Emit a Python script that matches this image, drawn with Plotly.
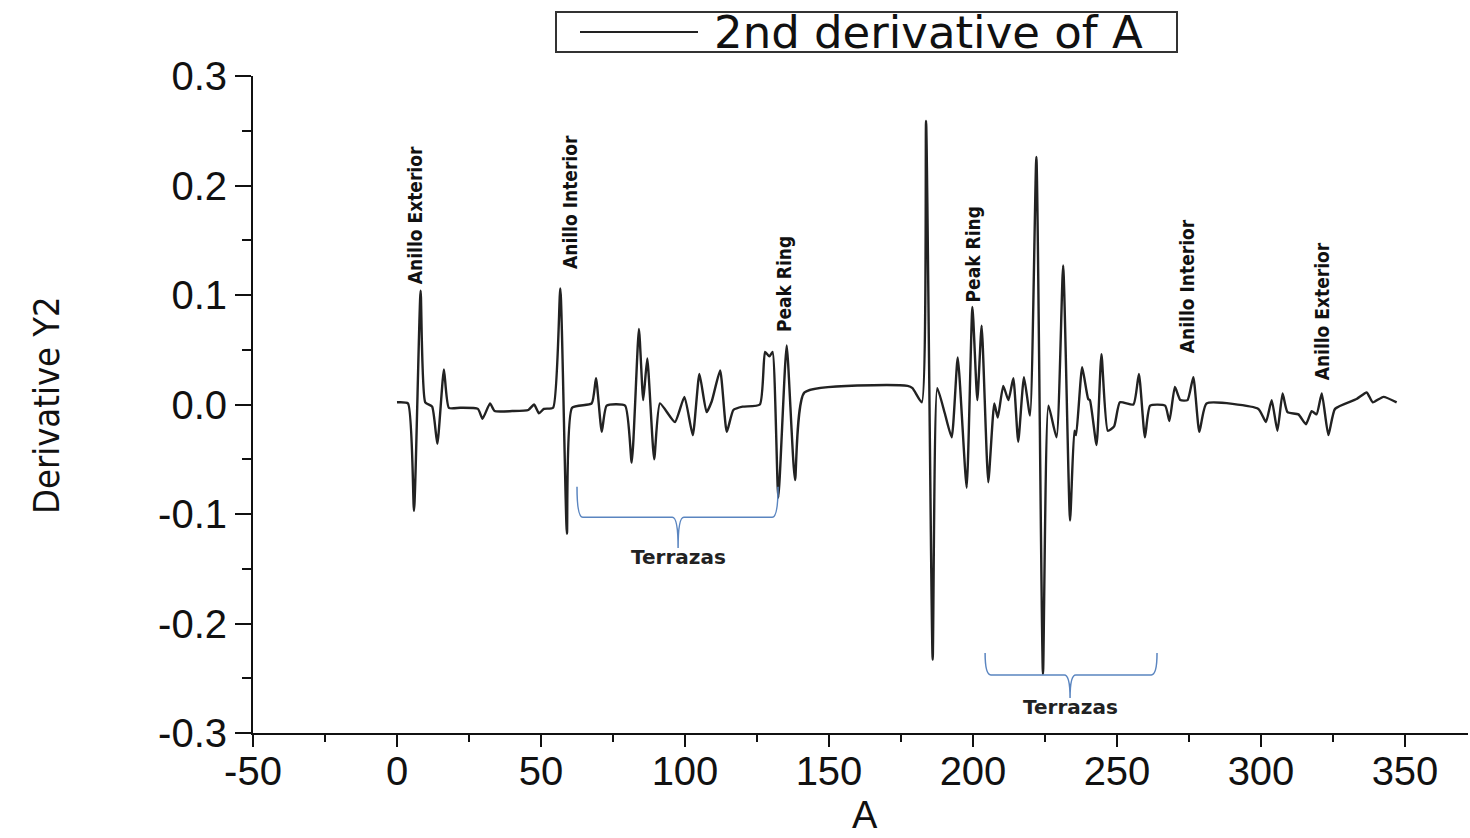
import plotly.graph_objects as go

# ---------------- data ----------------
x_vals = [0, 3.8, 5.9, 8.2, 9.8, 12.2, 14.0, 16.3, 18.0, 22.0, 28.1, 29.7, 32.3, 33.9,
          40.0, 45.6, 47.6, 49.3, 51.0, 54.2, 56.7, 59.0, 60.8,
          67.6, 69.1, 71.1, 72.8, 79.2, 81.5, 84.0, 85.5, 86.9, 89.3, 91.3, 96.5,
          99.8, 102.7, 105.0, 107.5, 109.3, 112.2, 114.5, 116.8, 120.0, 126.0,
          127.8, 129.3, 130.4, 132.4, 135.3, 138.2, 141.5, 177.3, 179.0, 182.2,
          183.7, 186.0, 187.6, 190.2, 192.6, 194.7, 197.8, 199.8, 201.5, 203.0,
          205.3, 207.4, 208.6, 210.5, 212.3, 214.0, 215.7, 217.7, 219.8, 222.0,
          224.3, 226.2, 229.0, 231.3, 233.7, 235.2, 235.8, 237.9, 240.0, 240.6,
          242.9, 244.6, 246.8, 249.0, 251.0, 255.7, 257.6, 259.7, 261.5, 266.7,
          268.2, 270.1, 272.0, 274.5, 276.5, 278.6, 281.1, 299.1, 301.7, 303.7,
          305.7, 307.5, 309.2, 313.0, 315.6, 317.6, 319.3, 321.1, 323.4, 325.7,
          333.2, 336.7, 338.8, 342.5, 347.1]
y_vals = [0.002, 0.001, -0.097, 0.104, 0.002, -0.002, -0.036, 0.032, -0.003, -0.003, -0.004, -0.013, 0.001, -0.006,
          -0.006, -0.005, 0.000, -0.008, -0.004, -0.003, 0.106, -0.118, -0.003,
          0.001, 0.024, -0.025, -0.001, -0.001, -0.053, 0.069, 0.004, 0.042, -0.050, 0.001, -0.016,
          0.007, -0.028, 0.028, -0.007, 0.003, 0.031, -0.025, -0.005, -0.002, 0.000,
          0.048, 0.044, 0.048, -0.085, 0.054, -0.069, 0.011, 0.017, 0.015, 0.002,
          0.259, -0.233, 0.015, -0.008, -0.030, 0.043, -0.076, 0.089, 0.004, 0.072,
          -0.071, 0.001, -0.012, 0.017, 0.004, 0.024, -0.034, 0.025, -0.010, 0.226,
          -0.246, -0.001, -0.030, 0.127, -0.106, -0.024, -0.028, 0.034, 0.005, 0.004,
          -0.037, 0.046, -0.024, -0.020, 0.002, 0.000, 0.028, -0.030, -0.001, -0.001,
          -0.015, 0.016, 0.004, 0.004, 0.025, -0.025, 0.001, -0.004, -0.016, 0.004,
          -0.024, 0.010, -0.007, -0.009, -0.018, -0.006, -0.009, 0.010, -0.028, -0.004,
          0.005, 0.011, 0.002, 0.007, 0.002]

series_name = "2nd derivative of A"
x_title = "A"
y_title = "Derivative Y2"

x_tick_vals = [-50, 0, 50, 100, 150, 200, 250, 300, 350]
x_tick_text = ["-50", "0", "50", "100", "150", "200", "250", "300", "350"]
y_tick_vals = [-0.3, -0.2, -0.1, 0.0, 0.1, 0.2, 0.3]
y_tick_text = ["-0.3", "-0.2", "-0.1", "0.0", "0.1", "0.2", "0.3"]

label_texts = ["Anillo Exterior", "Anillo Interior", "Peak Ring", "Peak Ring", "Anillo Interior", "Anillo Exterior"]
label_x = [6.3, 60.1, 134.4, 200.0, 274.3, 321.5]
label_y = [0.173, 0.185, 0.110, 0.137, 0.108, 0.085]

brace_label = "Terrazas"
brace_x0 = [62.5, 204.2]
brace_x1 = [132.3, 263.9]
brace_xm = [97.6, 233.7]
brace_ytop = [-0.075, -0.227]
brace_ybar = [-0.103, -0.247]
brace_ystem = [-0.131, -0.268]
brace_text_y = [-0.139, -0.276]

# ---------------- figure ----------------
W, H = 1470, 838
ML, MR, MT, MB = 253, 2, 76, 105
PW, PH = W - ML - MR, H - MT - MB

def px_to_paper_x(px):
    return (px - ML) / PW

def px_to_paper_y(py):
    return (H - MB - py) / PH

fig = go.Figure()
fig.add_trace(go.Scatter(x=x_vals, y=y_vals, mode="lines", name=series_name,
                         line=dict(color="#222222", width=2.4, shape="spline", smoothing=0.5),
                         showlegend=False))

tick_font = dict(family="Liberation Sans, Arial, sans-serif", size=40, color="#111")
narrow = "Liberation Sans Narrow, Arial Narrow, DejaVu Sans Condensed, Liberation Sans, sans-serif"

fig.update_layout(
    width=W, height=H, autosize=False,
    margin=dict(l=ML, r=MR, t=MT, b=MB, pad=0),
    paper_bgcolor="white", plot_bgcolor="white",
    showlegend=False,
    xaxis=dict(range=[-50, -50 + PW / 2.88], showgrid=False, zeroline=False,
               showline=True, linecolor="#111", linewidth=2,
               ticks="outside", ticklen=12, tickwidth=2, tickcolor="#111",
               tickmode="array", tickvals=x_tick_vals, ticktext=x_tick_text,
               tickfont=tick_font, ticklabelstandoff=-10,
               minor=dict(tickmode="linear", tick0=-25, dtick=50, ticks="outside",
                          ticklen=7, tickwidth=2, tickcolor="#111", showgrid=False)),
    yaxis=dict(range=[-0.3, 0.3], showgrid=False, zeroline=False,
               showline=True, linecolor="#111", linewidth=2,
               ticks="outside", ticklen=16, tickwidth=2, tickcolor="#111",
               tickmode="array", tickvals=y_tick_vals, ticktext=y_tick_text,
               tickfont=tick_font,
               minor=dict(tickmode="linear", tick0=0.05, dtick=0.1, ticks="outside",
                          ticklen=9, tickwidth=2, tickcolor="#111", showgrid=False)),
)

# axis titles placed as annotations for precise positioning
fig.add_annotation(xref="paper", yref="paper", x=px_to_paper_x(865), y=px_to_paper_y(815),
                   text=x_title, showarrow=False, xanchor="center", yanchor="middle",
                   font=dict(family="Liberation Sans, Arial, sans-serif", size=38, color="#111"))
fig.add_annotation(xref="paper", yref="paper", x=px_to_paper_x(46), y=px_to_paper_y(405),
                   text=y_title, showarrow=False, xanchor="center", yanchor="middle", textangle=-90,
                   font=dict(family=narrow, size=36, color="#111"))

# rotated labels
for t, lx, ly in zip(label_texts, label_x, label_y):
    fig.add_annotation(x=lx, y=ly, xref="x", yref="y", text=t, textangle=-90,
                       showarrow=False,
                       font=dict(family=narrow, size=19, color="#111", weight="bold"))

# braces
for x0, x1, xm, yt, yb, ys, ty in zip(brace_x0, brace_x1, brace_xm, brace_ytop,
                                      brace_ybar, brace_ystem, brace_text_y):
    r = 2.0
    path = (f"M {x0},{yt} Q {x0},{yb} {x0 + r},{yb} L {xm - r},{yb} "
            f"Q {xm},{yb} {xm},{ys} Q {xm},{yb} {xm + r},{yb} "
            f"L {x1 - r},{yb} Q {x1},{yb} {x1},{yt}")
    fig.add_shape(type="path", path=path, xref="x", yref="y",
                  line=dict(color="#5a85c0", width=1.5))
    fig.add_annotation(x=xm, y=ty, xref="x", yref="y", text=brace_label, showarrow=False,
                       yanchor="middle",
                       font=dict(family="DejaVu Sans, sans-serif", size=20, color="#222", weight="bold"))

# manual legend box
bx0, bx1, by0, by1 = px_to_paper_x(556), px_to_paper_x(1177), px_to_paper_y(12), px_to_paper_y(52)
fig.add_shape(type="rect", xref="paper", yref="paper", x0=bx0, x1=bx1, y0=by1, y1=by0,
              line=dict(color="#333", width=2), fillcolor="white")
fig.add_shape(type="line", xref="paper", yref="paper",
              x0=px_to_paper_x(580), x1=px_to_paper_x(698),
              y0=px_to_paper_y(32), y1=px_to_paper_y(32),
              line=dict(color="#222222", width=2))
fig.add_annotation(xref="paper", yref="paper", x=px_to_paper_x(712), y=px_to_paper_y(32),
                   xanchor="left", yanchor="middle", text=series_name, showarrow=False,
                   font=dict(family="DejaVu Sans, sans-serif", size=45, color="#111"))

fig.write_html("out.html", config={"displayModeBar": False},
               post_script="document.body.style.margin='0px';")
